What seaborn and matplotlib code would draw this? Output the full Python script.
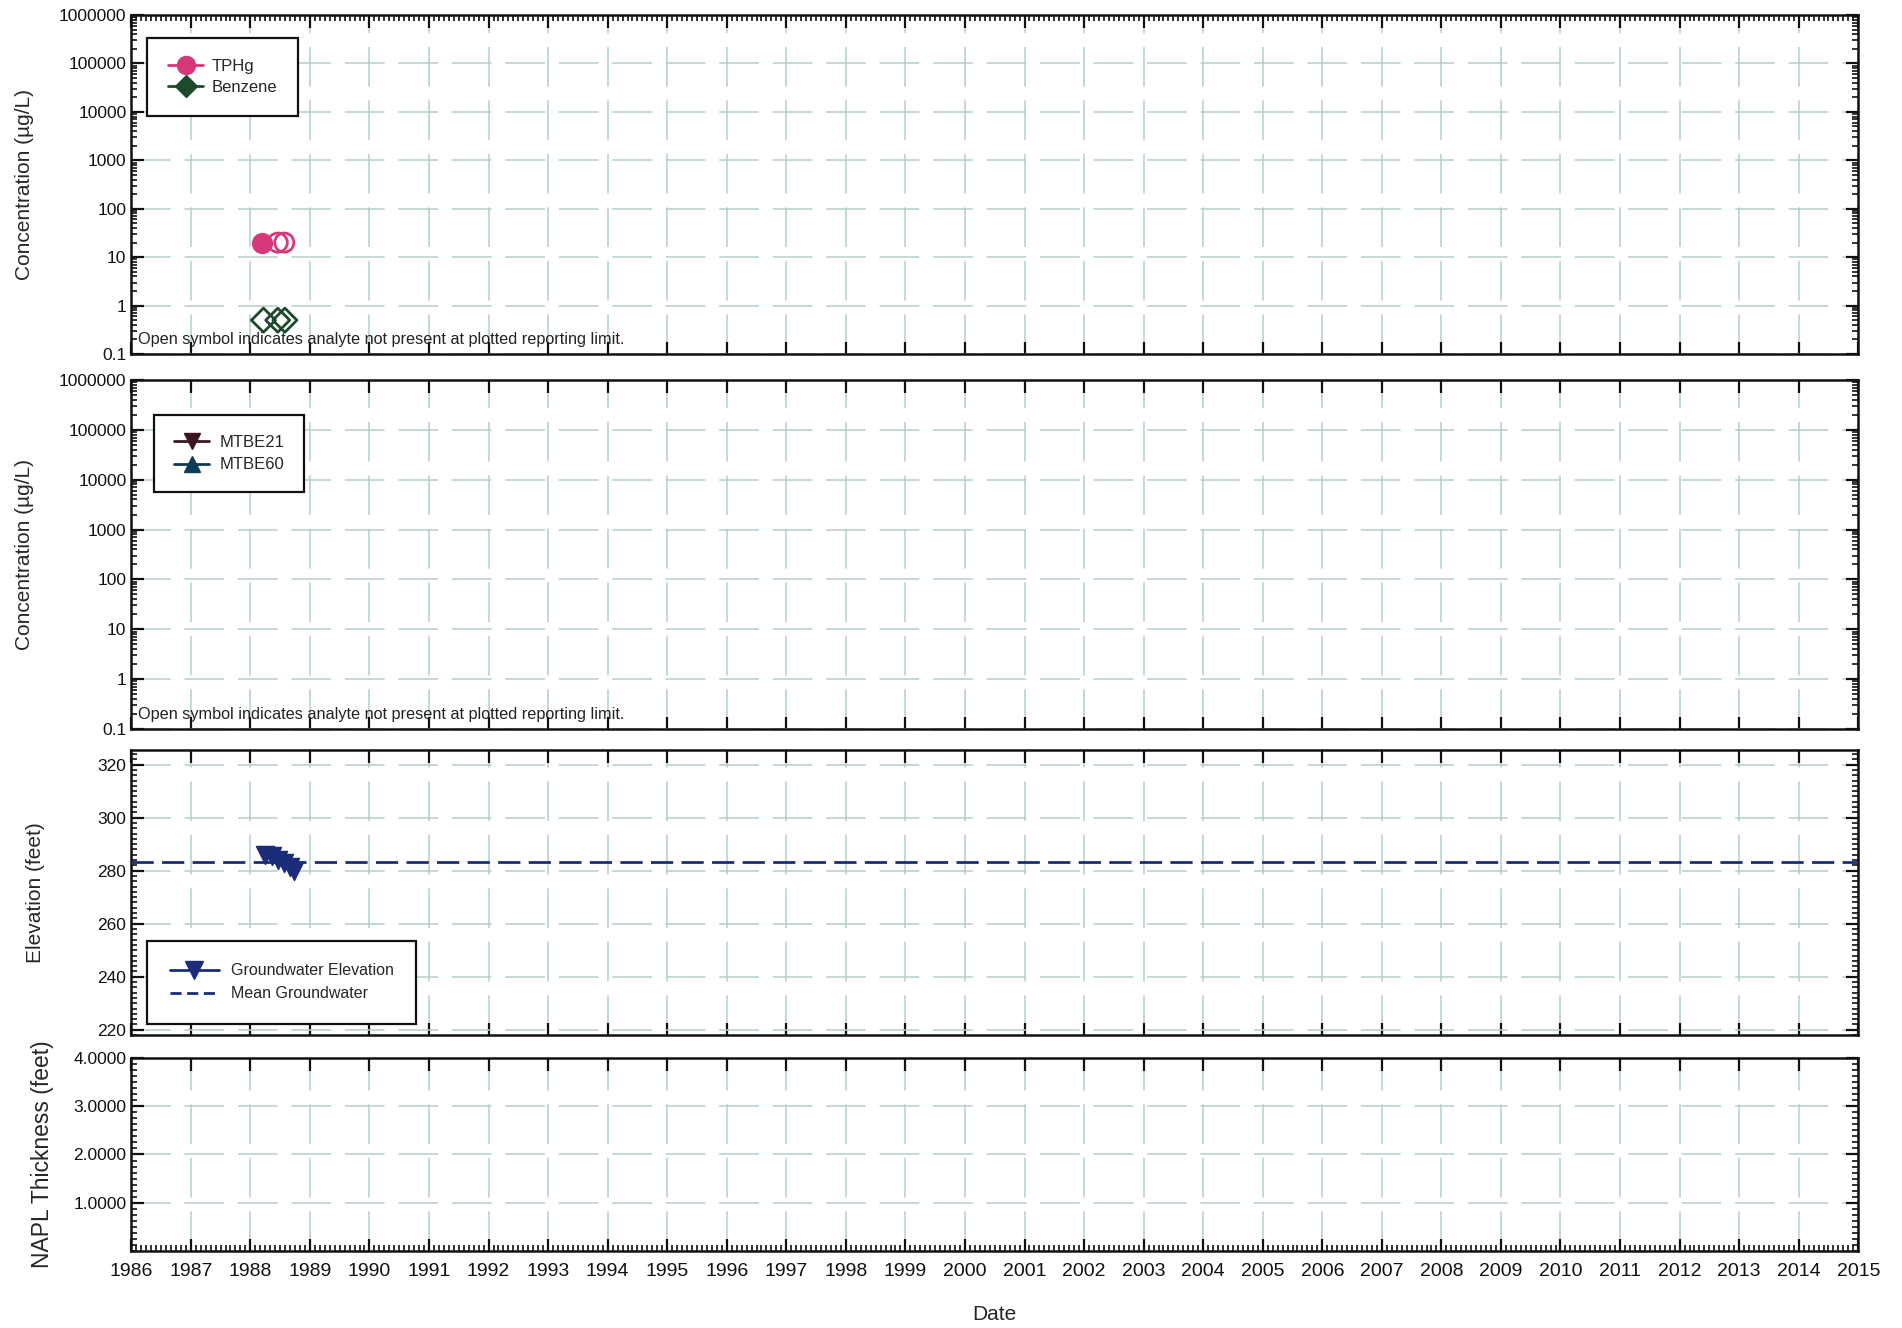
import numpy as np
import pandas as pd
import matplotlib
matplotlib.use("Agg")
import matplotlib.pyplot as plt
from matplotlib import font_manager
from matplotlib.lines import Line2D
from matplotlib.ticker import FixedLocator, MultipleLocator, LogLocator, NullFormatter, NullLocator
import seaborn as sns

# ---- data -------------------------------------------------------------
years = list(range(1986, 2016))

tphg_dates = [1988.20, 1988.46, 1988.57]
tphg_values = [20.0, 20.0, 20.0]
tphg_detected = [True, False, False]

benzene_dates = [1988.22, 1988.46, 1988.58]
benzene_values = [0.5, 0.5, 0.5]
benzene_detected = [False, False, False]

gw_dates = [1988.25, 1988.36, 1988.47, 1988.56, 1988.66, 1988.74]
gw_elev = [286.0, 285.5, 284.0, 282.8, 281.5, 280.0]

napl_ticks = [1.0, 2.0, 3.0, 4.0]
elev_ticks = [220, 240, 260, 280, 300, 320]
conc_ticks = [0.1, 1, 10, 100, 1000, 10000, 100000, 1000000]
conc_labels = ["0.1", "1", "10", "100", "1000", "10000", "100000", "1000000"]

note = "Open symbol indicates analyte not present at plotted reporting limit."

# ---- colours ----------------------------------------------------------
C_TPHG = "#d6387a"
C_BENZ = "#1d4a2a"
C_MTBE21 = "#3b1622"
C_MTBE60 = "#0e3b55"
C_GW = "#1b2d78"
C_GRID = "#b4cfc7"

# ---- style ------------------------------------------------------------
sns.set_theme(style="ticks")
available = {f.name for f in font_manager.fontManager.ttflist}
base_font = "Liberation Sans" if "Liberation Sans" in available else "DejaVu Sans"
narrow_font = "Liberation Sans Narrow" if "Liberation Sans Narrow" in available else base_font
plt.rcParams["font.family"] = [base_font, "DejaVu Sans"]

fig = plt.figure(figsize=(19.02, 13.28), dpi=100)
L, W = 0.069, 0.908
ax1 = fig.add_axes([L, 0.7334, W, 0.2553])
ax2 = fig.add_axes([L, 0.4511, W, 0.2628])
ax3 = fig.add_axes([L, 0.2206, W, 0.2146])
ax4 = fig.add_axes([L, 0.0580, W, 0.1453])
axes = [ax1, ax2, ax3, ax4]

grid_dash = (0, (26, 9))

for ax in axes:
    ax.set_xlim(years[0], years[-1])
    ax.xaxis.set_major_locator(FixedLocator(years))
    ax.xaxis.set_minor_locator(NullLocator())
    ax.grid(True, which="major", axis="both", color=C_GRID, linestyle=grid_dash, linewidth=1.1)
    ax.set_axisbelow(True)
    for sp in ax.spines.values():
        sp.set_visible(True)
        sp.set_linewidth(1.8)
        sp.set_color("#111111")
    ax.tick_params(which="major", direction="in", top=True, right=True, bottom=True, left=True,
                   length=9, width=1.6, colors="#111111", labelsize=11.5)
    ax.tick_params(which="minor", direction="in", top=False, right=True, bottom=False, left=True,
                   length=4, width=1.2, colors="#111111")


def style_legend(leg):
    frame = leg.get_frame()
    frame.set_edgecolor("#111111")
    frame.set_linewidth(1.6)
    frame.set_alpha(1)


legend_font = {"family": [narrow_font, base_font], "size": 12}

# concentration panels
for ax in (ax1, ax2):
    ax.set_yscale("log")
    ax.set_ylim(0.1, 1e6)
    ax.yaxis.set_major_locator(FixedLocator(conc_ticks))
    ax.set_yticklabels(conc_labels)
    ax.yaxis.set_minor_locator(LogLocator(base=10, subs=np.arange(2, 10)))
    ax.yaxis.set_minor_formatter(NullFormatter())
    ax.set_ylabel("Concentration (µg/L)", fontsize=15)
    ax.yaxis.set_label_coords(-0.0565, 0.5)
    ax.text(0.004, 0.02, note, transform=ax.transAxes, fontsize=11.7,
            fontfamily=[narrow_font, base_font], ha="left", va="bottom", color="#222222")

# minor ticks along the top of the first panel
ax1.xaxis.set_minor_locator(MultipleLocator(1 / 12))
ax1.tick_params(which="minor", top=True, bottom=False, length=4)

# ---- panel 1: TPHg and benzene ----------------------------------------
tphg = pd.DataFrame({"date": tphg_dates, "value": tphg_values, "detected": tphg_detected})
benz = pd.DataFrame({"date": benzene_dates, "value": benzene_values, "detected": benzene_detected})

for df, mk, col, sz in ((tphg, "o", C_TPHG, 190), (benz, "D", C_BENZ, 150)):
    det = df[df["detected"]]
    nd = df[~df["detected"]]
    if len(det):
        sns.scatterplot(data=det, x="date", y="value", ax=ax1, marker=mk, s=sz,
                        color=col, edgecolor=col, linewidth=1.5, zorder=5, legend=False)
    if len(nd):
        sns.scatterplot(data=nd, x="date", y="value", ax=ax1, marker=mk, s=sz,
                        facecolor="none", edgecolor=col, linewidth=2.0, zorder=5, legend=False)

h1 = [Line2D([], [], color=C_TPHG, marker="o", markersize=13, linewidth=2),
      Line2D([], [], color=C_BENZ, marker="D", markersize=11, linewidth=2)]
leg1 = ax1.legend(h1, ["TPHg", "Benzene"], loc="upper left", bbox_to_anchor=(0.0093, 0.932),
                  borderaxespad=0, frameon=True, fancybox=False, handlelength=2.1,
                  handletextpad=0.5, borderpad=1.25, labelspacing=0.35, prop=legend_font)
style_legend(leg1)

# ---- panel 2: MTBE -----------------------------------------------------
h2 = [Line2D([], [], color=C_MTBE21, marker="v", markersize=12, linewidth=2),
      Line2D([], [], color=C_MTBE60, marker="^", markersize=12, linewidth=2)]
leg2 = ax2.legend(h2, ["MTBE21", "MTBE60"], loc="upper left", bbox_to_anchor=(0.0133, 0.90),
                  borderaxespad=0, frameon=True, fancybox=False, handlelength=2.1,
                  handletextpad=0.6, borderpad=1.2, labelspacing=0.45, prop=legend_font)
style_legend(leg2)

# ---- panel 3: groundwater elevation -----------------------------------
gw = pd.DataFrame({"date": gw_dates, "elev": gw_elev})
mean_gw = float(np.mean(gw_elev))
ax3.set_ylim(218, 325.5)
ax3.yaxis.set_major_locator(FixedLocator(elev_ticks))
ax3.yaxis.set_minor_locator(MultipleLocator(2))
ax3.axhline(mean_gw, color=C_GW, linestyle=(0, (8, 3)), linewidth=2, zorder=3)
sns.lineplot(data=gw, x="date", y="elev", ax=ax3, color=C_GW, linewidth=2, zorder=4)
sns.scatterplot(data=gw, x="date", y="elev", ax=ax3, marker="v", s=170, color=C_GW,
                edgecolor=C_GW, linewidth=1, zorder=5, legend=False)
ax3.set_ylabel("Elevation (feet)", fontsize=15)
ax3.yaxis.set_label_coords(-0.050, 0.5)
h3 = [Line2D([], [], color=C_GW, marker="v", markersize=13, linewidth=2),
      Line2D([], [], color=C_GW, linestyle=(0, (4, 2)), linewidth=2)]
leg3 = ax3.legend(h3, ["Groundwater Elevation", "Mean Groundwater"], loc="upper left",
                  bbox_to_anchor=(0.0093, 0.330), borderaxespad=0, frameon=True, fancybox=False,
                  handlelength=3.1, handletextpad=0.75, borderpad=1.4, labelspacing=0.5,
                  prop={"family": [narrow_font, base_font], "size": 11.5})
style_legend(leg3)

# ---- panel 4: NAPL thickness ------------------------------------------
ax4.set_ylim(0, 4)
ax4.yaxis.set_major_locator(FixedLocator(napl_ticks))
ax4.set_yticklabels([f"{v:.4f}" for v in napl_ticks])
ax4.yaxis.set_minor_locator(MultipleLocator(0.125))
ax4.xaxis.set_minor_locator(MultipleLocator(1 / 12))
ax4.tick_params(which="minor", bottom=True, top=False, length=4)
ax4.set_ylabel("NAPL Thickness (feet)", fontsize=16.5)
ax4.yaxis.set_label_coords(-0.0445, 0.5)
ax4.set_xticklabels([str(y) for y in years], fontsize=14, fontfamily=[narrow_font, base_font])
ax4.tick_params(axis="x", which="major", pad=9)
ax4.set_xlabel("Date", fontsize=15, labelpad=18)

for ax in (ax1, ax2, ax3):
    ax.tick_params(axis="x", labelbottom=False)
    ax.set_xlabel("")

for ax in axes:
    for lab in ax.get_yticklabels():
        lab.set_fontfamily([narrow_font, base_font])
        lab.set_fontsize(12.5)

fig.savefig("out.png", dpi=100, facecolor="white")
